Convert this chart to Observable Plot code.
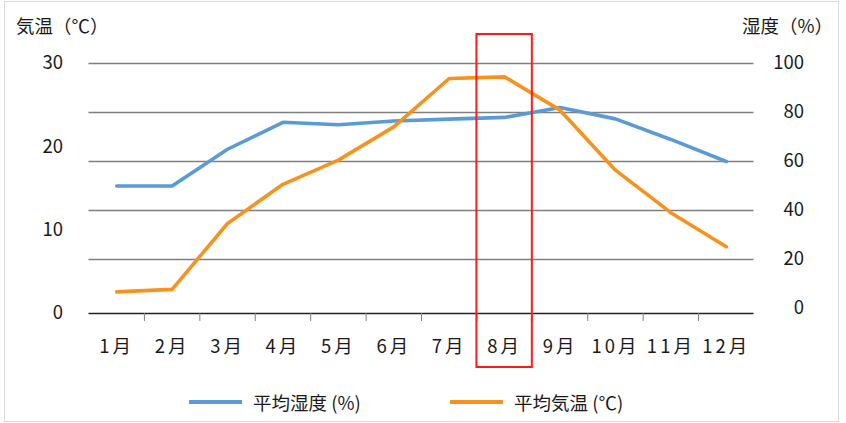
<!DOCTYPE html>
<html>
<head>
<meta charset="utf-8">
<script src="https://cdn.jsdelivr.net/npm/d3@7"></script>
<script src="https://cdn.jsdelivr.net/npm/@observablehq/plot@0.6"></script>
<style>
  body { margin: 0; background: #fff; }
  #wrap { position: relative; width: 846px; height: 423px; font-family: "Noto Sans CJK JP", "Noto Sans", sans-serif; color: #1a1a1a; }
  #border { position: absolute; left: 4px; top: 1px; width: 835px; height: 421px; border: 1px solid #d9d9d9; box-sizing: border-box; }
  #chart { position: absolute; left: 0; top: 0; }
  #chart svg g[aria-label="x-axis tick label"] text { letter-spacing: 3px; }
  .title { position: absolute; font-size: 18.5px; line-height: 24px; white-space: nowrap; }
  .legend { position: absolute; top: 390px; font-size: 18.5px; line-height: 24px; display: flex; align-items: center; white-space: nowrap; }
  .sw { display: inline-block; width: 53px; height: 4px; margin-right: 11px; }
</style>
</head>
<body>
<div id="wrap">
  <div id="border"></div>
  <div id="chart"></div>
  <div class="title" style="left:16px;top:13px;">気温（℃）</div>
  <div class="title" style="right:13px;top:13px;">湿度（%）</div>
  <div class="legend" style="left:189px;"><span class="sw" style="background:#5b9bd5"></span>平均湿度 (%)</div>
  <div class="legend" style="left:450px;"><span class="sw" style="background:#f6921e"></span>平均気温 (℃)</div>
</div>
<script>
const months = ["1月","2月","3月","4月","5月","6月","7月","8月","9月","10月","11月","12月"];
const humidity = [50, 50, 65, 76, 75, 76.5, 77.3, 78, 82, 77.4, 69, 60];
const temperature = [2.6, 2.9, 10.8, 15.5, 18.4, 22.4, 28.2, 28.4, 24.4, 17.2, 12.1, 8.0];
const tempTicks = [0, 10, 20, 30];
const humTicks = [0, 20, 40, 60, 80, 100];
const highlight = "8月";

const blue = "#5b9bd5", orange = "#f6921e";
// right (humidity) axis mapped onto the left (temperature) scale
const hToY = d3.scaleLinear().domain([0, 100]).range([0.6, 30]);
const monthPos = months.map((m, i) => i + 1);
const boundaries = monthPos.slice(0, -1).map(p => p + 0.5);
const hi = months.indexOf(highlight) + 1;

const chart = Plot.plot({
  width: 846,
  height: 423,
  marginLeft: 88.5,
  marginRight: 92.5,
  marginTop: 63,
  marginBottom: 110,
  style: { fontFamily: "'Noto Sans CJK JP', 'Noto Sans', sans-serif", fontSize: "18.5px", color: "#1a1a1a", background: "transparent" },
  x: { type: "linear", domain: [0.5, months.length + 0.5] },
  y: { domain: [0, 30] },
  marks: [
    Plot.ruleY(humTicks.filter(d => d > 0).map(d => hToY(d)), { stroke: "#7f7f7f", strokeWidth: 1.6 }),
    Plot.ruleY([0], { stroke: "#222", strokeWidth: 1.6 }),
    Plot.axisX({ ticks: boundaries, tickFormat: () => "", tickSize: 8, stroke: "#7f7f7f", strokeWidth: 1 }),
    Plot.axisX({ ticks: monthPos, tickFormat: d => months[d - 1], tickSize: 0, tickPadding: 26, fontSize: 18.5, label: null }),
    Plot.axisY({ anchor: "left", ticks: tempTicks, tickSize: 0, tickPadding: 26, fontSize: 18.5, label: null }),
    Plot.axisY({ anchor: "right", ticks: humTicks.map(d => hToY(d)), tickFormat: d => Math.round(hToY.invert(d)), tickSize: 0, tickPadding: 50, textAnchor: "end", fontSize: 18.5, label: null }),
    Plot.line(humidity, { x: (d, i) => monthPos[i], y: d => hToY(d), stroke: blue, strokeWidth: 3.6 }),
    Plot.line(temperature, { x: (d, i) => monthPos[i], y: d => d, stroke: orange, strokeWidth: 3.6 }),
    Plot.rect([highlight], { x1: () => hi - 0.5, x2: () => hi + 0.5, y1: () => 0, y2: () => 30, insetTop: -29, insetBottom: -54, fill: "none", stroke: "#ff1a1a", strokeWidth: 2 })
  ]
});
document.getElementById("chart").appendChild(chart);
</script>
</body>
</html>
